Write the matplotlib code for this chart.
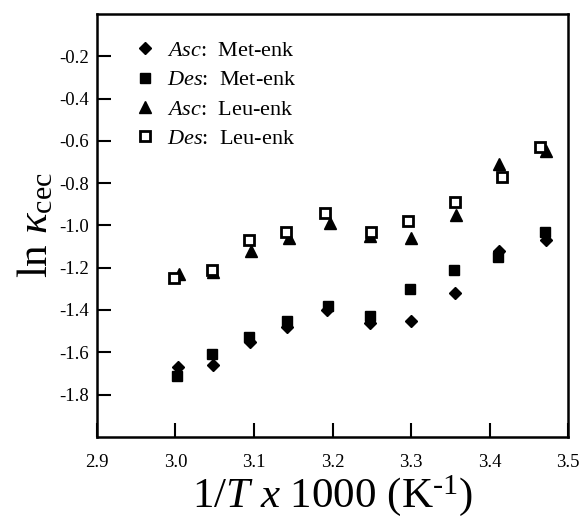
import matplotlib
matplotlib.use("Agg")
import matplotlib.pyplot as plt

plt.rcParams['font.family'] = ['Liberation Serif', 'DejaVu Serif']
plt.rcParams['mathtext.fontset'] = 'custom'
plt.rcParams['mathtext.rm'] = 'Liberation Serif'
plt.rcParams['mathtext.it'] = 'Liberation Serif:italic'

# Data
x_asc_met = [3.003, 3.048, 3.095, 3.142, 3.193, 3.247, 3.300, 3.356, 3.412, 3.472]
y_asc_met = [-1.67, -1.66, -1.55, -1.48, -1.40, -1.46, -1.45, -1.32, -1.12, -1.07]

x_des_met = [3.002, 3.047, 3.094, 3.142, 3.194, 3.248, 3.299, 3.355, 3.411, 3.471]
y_des_met = [-1.71, -1.61, -1.53, -1.45, -1.38, -1.43, -1.30, -1.21, -1.15, -1.03]

x_asc_leu = [3.004, 3.048, 3.096, 3.145, 3.197, 3.247, 3.300, 3.357, 3.412, 3.472]
y_asc_leu = [-1.23, -1.22, -1.12, -1.06, -0.99, -1.05, -1.06, -0.95, -0.71, -0.65]

x_des_leu = [2.998, 3.046, 3.093, 3.141, 3.190, 3.249, 3.296, 3.356, 3.416, 3.464]
y_des_leu = [-1.25, -1.21, -1.07, -1.03, -0.94, -1.03, -0.98, -0.89, -0.77, -0.63]

labels = [r"$\mathit{Asc}$:  Met-enk", r"$\mathit{Des}$:  Met-enk",
          r"$\mathit{Asc}$:  Leu-enk", r"$\mathit{Des}$:  Leu-enk"]

xticks = [2.9, 3.0, 3.1, 3.2, 3.3, 3.4, 3.5]
xticklabels = ["2.9", "3.0", "3.1", "3.2", "3.3", "3.4", "3.5"]
yticks = [-1.8, -1.6, -1.4, -1.2, -1.0, -0.8, -0.6, -0.4, -0.2]
yticklabels = ["-1.8", "-1.6", "-1.4", "-1.2", "-1.0", "-0.8", "-0.6", "-0.4", "-0.2"]

fig = plt.figure(figsize=(5.84, 5.17), dpi=100)
ax = fig.add_axes([0.166, 0.155, 0.807, 0.818])

ax.plot(x_asc_met, y_asc_met, linestyle='none', marker='D', ms=6, color='black', label=labels[0])
ax.plot(x_des_met, y_des_met, linestyle='none', marker='s', ms=7.5, color='black', label=labels[1])
ax.plot(x_asc_leu, y_asc_leu, linestyle='none', marker='^', ms=9, color='black', label=labels[2])
ax.plot(x_des_leu, y_des_leu, linestyle='none', marker='s', ms=7, mfc='white', mec='black', mew=2, label=labels[3])

ax.set_xlim(2.9, 3.5)
ax.set_ylim(-2.0, 0.0)
ax.set_xticks(xticks)
ax.set_xticklabels(xticklabels)
ax.set_yticks(yticks)
ax.set_yticklabels(yticklabels)

for s in ax.spines.values():
    s.set_linewidth(1.8)
ax.tick_params(direction='in', length=10, width=1.5, labelsize=13.5)
ax.tick_params(axis='x', pad=12)
ax.tick_params(axis='y', pad=6)

ax.set_xlabel(r"1/$\mathit{T}$ $\mathit{x}$ 1000 (K$^{\text{-1}}$)", fontsize=31, labelpad=2)
ax.set_ylabel(r"ln $\mathit{\kappa}_{\rm cec}$", fontsize=31, labelpad=2)

leg = ax.legend(loc='upper left', frameon=False, fontsize=16, handletextpad=0.5,
                handlelength=1.0, labelspacing=0.4, bbox_to_anchor=(0.035, 0.985))

fig.savefig("out.png", dpi=100)
